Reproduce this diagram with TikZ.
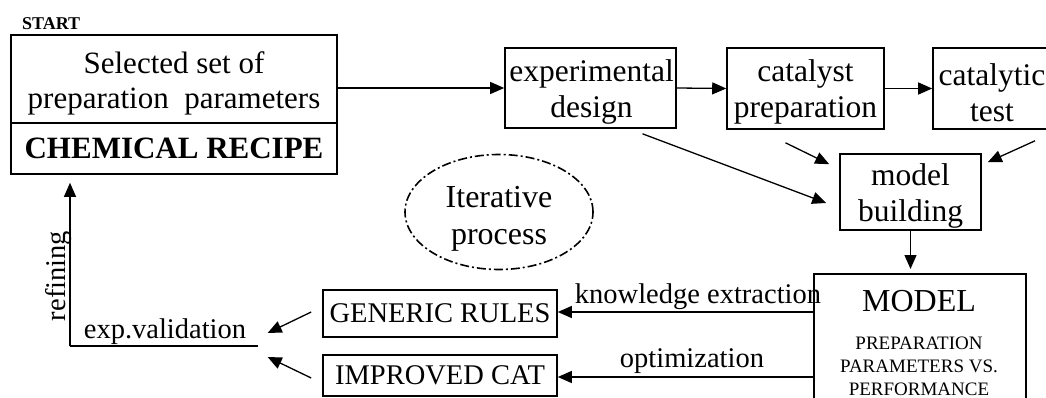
\documentclass[tikz,border=0pt]{standalone}
\usepackage{fontspec}
\setmainfont{Liberation Serif}
\usetikzlibrary{arrows.meta,shapes.geometric,calc}
\begin{document}
\begin{tikzpicture}[x=1pt,y=-1pt,
  box/.style={draw, line width=1.6pt, inner sep=0pt, align=center},
  txt/.style={align=center, inner sep=0pt},
  arr/.style={line width=1.3pt, -{Triangle[length=14pt,width=12pt]}},
  big/.style={font=\fontsize{31.5}{36}\selectfont},
  mid/.style={font=\fontsize{28.5}{32}\selectfont},
]
\useasboundingbox (0,0) rectangle (1046,398);
\clip (0,0) rectangle (1046,398);
\fill[white] (0,0) rectangle (1046,398);

\node[font=\bfseries\fontsize{18}{20}\selectfont, anchor=west, inner sep=0pt] (start) at (22,24) {START};
\node[box, minimum width=326pt, minimum height=88pt] (sel) at (174,79) {};
\node[txt, font=\fontsize{31}{35}\selectfont] (selt) at (174,83) {Selected set of\\preparation\ \ parameters};
\node[box, font=\bfseries\fontsize{31}{34}\selectfont, minimum width=326pt, minimum height=51pt] (rec) at (174,148.5) {CHEMICAL RECIPE};

\node[box, minimum width=171pt, minimum height=80pt] (exp) at (590.5,88) {};
\node[txt, big] (expt) at (591.5,91.5) {experimental\\design};
\node[box, minimum width=157pt, minimum height=81pt] (cat) at (805.5,88.5) {};
\node[txt, big] (catt) at (805.5,91.5) {catalyst\\preparation};
\node[box, minimum width=124pt, minimum height=81pt] (test) at (995,88.5) {};
\node[txt, big] (testt) at (992,92.5) {catalytic\\test};
\node[box, minimum width=141pt, minimum height=76pt] (mb) at (910.5,192) {};
\node[txt, big] (mbt) at (910.5,195.5) {model\\building};

\node[draw, line width=1.6pt, ellipse, dash pattern=on 9pt off 3pt on 2pt off 3pt, minimum width=188pt, minimum height=115pt] (iter) at (499,212) {};
\node[txt, font=\fontsize{32}{37}\selectfont] (itert) at (499,218.5) {Iterative\\process};

\node[box, minimum width=212pt, minimum height=150pt, anchor=north west] (model) at (813,273) {};
\node[txt, font=\fontsize{32}{34}\selectfont] (modeltitle) at (919,301) {MODEL};
\node[txt, font=\fontsize{19}{23}\selectfont] (modelsub) at (919,366) {PREPARATION\\PARAMETERS VS.\\PERFORMANCE};

\node[box, mid, minimum width=234pt, minimum height=47pt] (gr) at (440,313.5) {GENERIC RULES};
\node[box, mid, minimum width=234pt, minimum height=41pt] (ic) at (440,375.5) {IMPROVED CAT};

% top flow
\draw[arr] (sel.east |- exp.west) -- (exp.west);
\draw[arr] (exp.east) -- (cat.west);
\draw[arr] (cat.east) -- (test.west);

% into model building
\draw[arr] ($(exp.south)+(52,5)$) -- ($(mb.west)+(-13,11)$);
\draw[arr] ($(cat.south)+(-20,13)$) -- ($(mb.north west)+(-10,11)$);
\draw[arr] ($(test.south)+(40,11)$) -- ($(mb.north east)+(6,9)$);
\draw[arr, shorten >=4pt] (mb.south) -- (mb.south |- model.north);

% from model
\draw[arr] (model.west |- 0,312) -- (gr.east |- 0,312);
\draw[arr] (model.west |- 0,377) -- (ic.east |- 0,377);
\node[mid] (ke) at (698,297) {knowledge extraction};
\node[mid] (opt) at (692,361) {optimization};

% validation and refining
\node[mid] (val) at (165,332) {exp.validation};
\coordinate (ve) at (258,346);
\coordinate (vc) at (70,346);
\draw[line width=1.1pt] (ve) -- (vc);
\draw[arr, line width=1.1pt, shorten >=8pt] (vc) -- (vc |- rec.south);
\node[mid, rotate=90] (ref) at (59,276) {refining};
\draw[arr] ($(gr.west)+(-11,-1.5)$) -- ($(val.east)+(18,1)$);
\draw[arr] ($(ic.west)+(-11,2.5)$) -- ($(val.east)+(18,25)$);
\end{tikzpicture}
\end{document}
